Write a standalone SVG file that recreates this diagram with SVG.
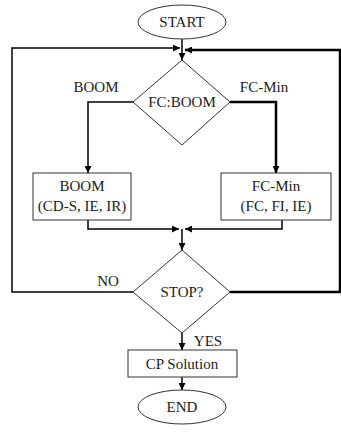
<svg xmlns="http://www.w3.org/2000/svg" width="341" height="435" viewBox="0 0 341 435">
<defs>
<marker id="ah" viewBox="0 0 10 10" refX="10" refY="5" markerWidth="7" markerHeight="7" markerUnits="userSpaceOnUse" orient="auto">
<path d="M0,0 L10,5 L0,10 z" fill="#000"/>
</marker>
</defs>
<style>
text{font-family:"Liberation Serif","Times New Roman",serif;font-size:15px;fill:#222;text-anchor:middle}
.shape{fill:#fff;stroke:#333;stroke-width:1}
.c{fill:none;stroke:#000;stroke-width:1.5}
.ct{fill:none;stroke:#000;stroke-width:2.5}
</style>
<rect width="341" height="435" fill="#fff"/>
<g id="connectors">
<line class="c" x1="182" y1="39" x2="182" y2="60" marker-end="url(#ah)"/>
<polyline class="c" points="133,292 12,292 12,48 180,48" marker-end="url(#ah)"/>
<polyline class="ct" points="230,292 340,292 340,50 185,50" marker-end="url(#ah)"/>
<polyline class="c" points="133,102 88,102 88,173" marker-end="url(#ah)"/>
<polyline class="ct" points="230,102 276,102 276,173" marker-end="url(#ah)"/>
<polyline class="c" points="88,220 88,229 179,229" marker-end="url(#ah)"/>
<polyline class="c" points="282,220 282,229 185,229" marker-end="url(#ah)"/>
<line class="c" x1="182" y1="229" x2="182" y2="250" marker-end="url(#ah)"/>
<line class="c" x1="182" y1="333" x2="182" y2="350" marker-end="url(#ah)"/>
<line class="c" x1="182" y1="377" x2="182" y2="390" marker-end="url(#ah)"/>
<text x="96" y="92">BOOM</text>
<text x="264" y="92">FC-Min</text>
<text x="108" y="286">NO</text>
<text x="208" y="346">YES</text>
</g>
<g id="start">
<ellipse class="shape" cx="182" cy="22" rx="44" ry="17"/>
<text x="182" y="27">START</text>
</g>
<g id="fcboom">
<polygon class="shape" points="182,60 230,102 182,145 133,102"/>
<text x="182" y="107">FC:BOOM</text>
</g>
<g id="boom">
<rect class="shape" x="33" y="173" width="98" height="47"/>
<text x="82" y="191">BOOM</text>
<text x="82" y="211">(CD-S, IE, IR)</text>
</g>
<g id="fcmin">
<rect class="shape" x="221" y="173" width="110" height="47"/>
<text x="276" y="191">FC-Min</text>
<text x="276" y="211">(FC, FI, IE)</text>
</g>
<g id="stop">
<polygon class="shape" points="182,250 230,292 182,333 133,292"/>
<text x="182" y="297">STOP?</text>
</g>
<g id="cp">
<rect class="shape" x="128" y="350" width="109" height="27"/>
<text x="182" y="369">CP Solution</text>
</g>
<g id="end">
<ellipse class="shape" cx="182" cy="407" rx="44" ry="17"/>
<text x="182" y="412">END</text>
</g>
</svg>
